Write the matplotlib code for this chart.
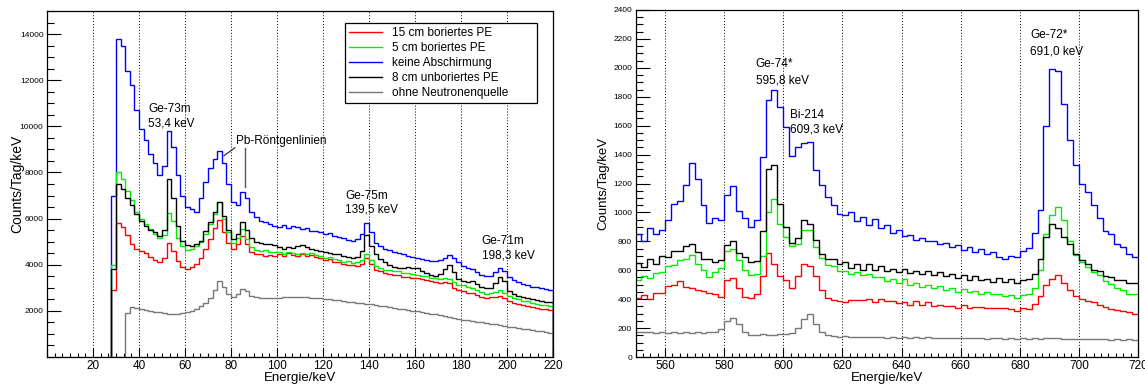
import numpy as np
import matplotlib
matplotlib.use("Agg")
import matplotlib.pyplot as plt
from matplotlib.ticker import MultipleLocator, FuncFormatter
from matplotlib.lines import Line2D

plt.rcParams['font.family'] = ['Liberation Sans', 'DejaVu Sans']

# ---------------- data: left panel (2 keV bins starting at 28 keV) ----------------
left_start = 28.0
left_bin = 2.0
left_red = [2900, 5800, 5650, 5300, 4900, 4700, 4600, 4500, 4350, 4200,
            4100, 4300, 4950, 4600, 4150, 3900, 3800, 3900, 4050, 4300,
            4700, 5100, 5600, 5950, 5400, 4950, 4700, 4900, 5250, 4900,
            4550, 4450, 4450, 4380, 4420, 4400,
            4450, 4370, 4490, 4410, 4370, 4460, 4390, 4440, 4330, 4310,
            4210, 4270, 4140, 4110, 4050, 4010, 3970, 3960, 4050, 4300,
            4050, 3790, 3730, 3650, 3610, 3540, 3540, 3480, 3470, 3410,
            3410, 3360, 3330, 3280, 3260, 3210, 3250, 3190, 3010, 2890,
            2870, 2780, 2770, 2670, 2620, 2550, 2590, 2590, 2660, 2540,
            2410, 2340, 2310, 2240, 2210, 2150, 2130, 2080, 2080, 2040]
left_green = [4000, 8000, 7700, 7200, 6800, 6300, 6000, 5750, 5550, 5350,
              5150, 5300, 6250, 5900, 5150, 4800, 4650, 4700, 4800, 5000,
              5350, 5750, 6200, 6700, 6000, 5400, 4950, 5150, 5550, 5100,
              4750, 4650, 4600, 4620, 4570, 4550,
              4560, 4480, 4570, 4490, 4480, 4520, 4450, 4510, 4410, 4390,
              4290, 4340, 4240, 4210, 4140, 4170, 4090, 4130, 4200, 4450,
              4200, 3940, 3860, 3790, 3760, 3710, 3710, 3640, 3630, 3590,
              3570, 3510, 3490, 3440, 3430, 3390, 3430, 3370, 3260, 3140,
              3110, 3040, 3010, 2890, 2810, 2740, 2790, 2810, 2890, 2790,
              2630, 2540, 2510, 2440, 2410, 2340, 2310, 2250, 2240, 2190]
left_blue = [7000, 13800, 13500, 12400, 11800, 10700, 9900, 9400, 8800, 8400,
             7900, 8300, 9800, 9100, 7900, 7000, 6500, 6400, 6300, 6900,
             7600, 8200, 8600, 8950, 8400, 7500, 6700, 6600, 7150, 6900,
             6300, 6050, 5900, 5850, 5750, 5680,
             5650, 5720, 5600, 5680, 5620, 5560, 5600, 5480, 5450, 5400,
             5350, 5380, 5250, 5200, 5150, 5080, 5050, 5100, 5350, 5800,
             5400, 4950, 4800, 4700, 4650, 4550, 4520, 4480, 4400, 4350,
             4280, 4250, 4200, 4180, 4150, 4200, 4300, 4420, 4300, 4100,
             3950, 3880, 3800, 3700, 3550, 3500, 3520, 3700, 3880, 3750,
             3450, 3350, 3250, 3180, 3120, 3050, 3020, 2980, 2950, 2920]
left_black = [3800, 7500, 7300, 6900, 6600, 6200, 5900, 5700, 5500, 5400,
              5250, 5500, 7700, 6900, 5700, 5050, 4850, 4800, 4900, 5050,
              5450, 5850, 6300, 6700, 6100, 5500, 5100, 5350, 5850, 5500,
              5150, 5000, 4950, 4900, 4900, 4850,
              4750, 4700, 4780, 4720, 4800, 4850, 4750, 4700, 4650, 4600,
              4550, 4520, 4480, 4450, 4380, 4350, 4300, 4350, 4600, 5300,
              4800, 4450, 4250, 4100, 4000, 3900, 3880, 3850, 3900, 3870,
              3850, 3750, 3650, 3550, 3520, 3600, 3800, 3980, 3700, 3400,
              3300, 3250, 3280, 3150, 3050, 2980, 3000, 3200, 3480, 3300,
              2850, 2720, 2650, 2600, 2560, 2520, 2480, 2440, 2400, 2380]
left_gray = [0, 0, 0, 1900, 2150, 2120, 2080, 2050, 2000, 1970,
             1940, 1900, 1880, 1870, 1880, 1900, 1950, 2000, 2080, 2200,
             2350, 2550, 2900, 3300, 3050, 2750, 2600, 2750, 2950, 2850,
             2650, 2580, 2560, 2560, 2570, 2570,
             2570, 2580, 2590, 2600, 2600, 2590, 2580, 2570, 2560, 2550,
             2530, 2510, 2480, 2450, 2430, 2400, 2380, 2360, 2340, 2310,
             2280, 2250, 2220, 2190, 2160, 2130, 2100, 2070, 2040, 2010,
             1980, 1950, 1920, 1880, 1850, 1810, 1780, 1740, 1700, 1660,
             1620, 1590, 1560, 1530, 1500, 1470, 1440, 1410, 1380, 1350,
             1320, 1290, 1260, 1230, 1200, 1170, 1140, 1110, 1080, 1050]

# ---------------- data: right panel (2 keV bins starting at 550 keV) ----------------
right_start = 550.0
right_bin = 2.0
right_red = [405, 430, 400, 440, 445, 490, 500, 525, 485, 475,
             460, 455, 440, 435, 415, 530, 545, 480, 415, 405,
             435, 560, 720, 640, 560, 530, 480, 560, 640, 630,
             560, 460, 410, 395, 385, 378, 396, 392, 392, 400,
             380, 402, 384, 390, 372, 382, 362, 388, 358, 378,
             352, 362, 356, 354, 340, 360, 338, 346, 348, 342,
             340, 338, 336, 334, 320, 336, 335, 365, 420, 500,
             540, 565, 510, 460, 420, 400, 385, 380, 360, 345,
             330, 322, 315, 310, 300]
right_green = [530, 560, 548, 580, 585, 630, 635, 670, 675, 705,
               645, 605, 555, 590, 615, 730, 750, 670, 605, 570,
               575, 700, 1000, 1090, 920, 830, 770, 785, 880, 880,
               760, 685, 635, 630, 595, 592, 572, 588, 565, 576,
               550, 555, 528, 540, 515, 538, 500, 510, 485, 498,
               476, 488, 464, 475, 452, 472, 448, 458, 438, 450,
               434, 438, 420, 430, 410, 426, 435, 475, 600, 850,
               980, 1040, 950, 800, 705, 655, 625, 585, 565, 525,
               505, 475, 460, 435, 435]
right_blue = [850, 800, 890, 850, 880, 950, 1060, 1080, 1190, 1340,
              1230, 1050, 930, 960, 950, 1120, 1180, 1010, 960, 900,
              950, 1380, 1780, 1850, 1730, 1590, 1390, 1450, 1480, 1490,
              1290, 1190, 1110, 1050, 990, 980, 1000, 940, 970, 915,
              955, 895, 915, 860, 880, 840, 845, 810, 820, 800,
              805, 780, 790, 760, 775, 740, 760, 725, 745, 715,
              725, 690, 675, 700, 690, 730, 755, 855, 1020, 1600,
              1990, 1980, 1750, 1500, 1330, 1200, 1140, 1050, 960, 870,
              850, 780, 760, 710, 690]
right_black = [650, 625, 680, 645, 700, 690, 730, 735, 770, 785,
               725, 680, 675, 660, 670, 775, 805, 720, 690, 655,
               665, 870, 1300, 1330, 1060, 900, 790, 820, 950, 920,
               810, 715, 680, 680, 640, 655, 615, 640, 605, 640,
               600, 630, 598, 612, 590, 606, 580, 598, 572, 598,
               565, 588, 560, 572, 546, 570, 536, 558, 530, 542,
               520, 548, 518, 538, 512, 535, 540, 575, 680, 830,
               920, 890, 830, 780, 710, 670, 645, 605, 595, 560,
               555, 535, 530, 515, 515]
right_gray = [175, 170, 172, 168, 171, 166, 173, 167, 171, 166,
              173, 167, 171, 175, 195, 250, 268, 225, 170, 155,
              150, 156, 151, 150, 156, 160, 165, 200, 260, 295,
              230, 175, 150, 145, 139, 142, 140, 141, 136, 141,
              135, 140, 134, 139, 133, 138, 132, 137, 131, 136,
              133, 130, 134, 129, 134, 128, 133, 128, 132, 127,
              131, 128, 126, 130, 125, 129, 125, 129, 126, 130,
              129, 128, 126, 127, 124, 127, 123, 126, 122, 125,
              121, 124, 120, 123, 119]

labels = ["15 cm boriertes PE", "5 cm boriertes PE", "keine Abschirmung",
          "8 cm unboriertes PE", "ohne Neutronenquelle"]
colors = ["#ff0000", "#00ee00", "#0000ff", "#000000", "#777777"]

left_series = [left_red, left_green, left_blue, left_black, left_gray]
right_series = [right_red, right_green, right_blue, right_black, right_gray]
draw_order = [4, 2, 0, 1, 3]

W, H = 1145, 385
fig = plt.figure(figsize=(W / 100, H / 100), dpi=100)
axL = fig.add_axes([47 / W, 28 / H, 506 / W, 346 / H])
axR = fig.add_axes([635.5 / W, 28 / H, 502.5 / W, 347 / H])


def edges_for(start, width, n):
    return start + width * np.arange(n + 1)


for i in draw_order:
    v = np.asarray(left_series[i], dtype=float)
    axL.stairs(v, edges_for(left_start, left_bin, len(v)), baseline=0,
               color=colors[i], lw=1.0, zorder=2)
    v = np.asarray(right_series[i], dtype=float)
    axR.stairs(v, edges_for(right_start, right_bin, len(v)), baseline=None,
               color=colors[i], lw=1.0, zorder=2)


def style(ax, xlim, ylim, xmaj, xmin, ymaj, ymin, ytick_fs, hide_zero, ylab_x, ylab_fs):
    ax.set_xlim(*xlim)
    ax.set_ylim(*ylim)
    ax.xaxis.set_major_locator(MultipleLocator(xmaj))
    ax.xaxis.set_minor_locator(MultipleLocator(xmin))
    ax.yaxis.set_major_locator(MultipleLocator(ymaj))
    ax.yaxis.set_minor_locator(MultipleLocator(ymin))
    fmt = FuncFormatter(lambda v, p: '' if (hide_zero and abs(v) < 1e-9) else f'{v:.0f}')
    ax.xaxis.set_major_formatter(FuncFormatter(lambda v, p: '' if abs(v) < 1e-9 else f'{v:.0f}'))
    ax.yaxis.set_major_formatter(fmt)
    ax.tick_params(axis='x', which='major', direction='in', length=6.5, width=0.8,
                   labelsize=8.5, pad=2.5, top=False)
    ax.tick_params(axis='x', which='minor', direction='in', length=3.2, width=0.8, top=False)
    ax.tick_params(axis='y', which='major', direction='in', length=10, width=0.8,
                   labelsize=ytick_fs, pad=2.5, right=False)
    ax.tick_params(axis='y', which='minor', direction='in', length=5, width=0.8, right=False)
    ax.grid(axis='x', which='major', color='black', lw=0.7, ls=(0, (1, 2)))
    for s in ax.spines.values():
        s.set_linewidth(0.9)
        s.set_zorder(3)
    ax.set_xlabel('Energie/keV', fontsize=9.5)
    ax.xaxis.set_label_coords(0.5, -21 / 346)
    ax.xaxis.label.set_va('center')
    ax.set_ylabel('Counts/Tag/keV', fontsize=ylab_fs)
    ax.yaxis.set_label_coords(ylab_x, 0.5)
    ax.yaxis.label.set_va('center')


style(axL, (0, 220), (0, 15000), 20, 20 / 6, 2000, 500, 6, True, (17 - 47) / 506, 10)
style(axR, (550, 720), (0, 2400), 20, 2.5, 200, 50, 6, False, (603 - 635.5) / 502.5, 9.5)

# legend
handles = [Line2D([], [], color=c, lw=1.0) for c in colors]
leg = axL.legend(handles, labels, loc='upper left',
                 bbox_to_anchor=(298 / 506, 1 - 12 / 346, 192 / 506, 0.0),
                 mode='expand', fontsize=8.5, frameon=True, fancybox=False,
                 edgecolor='black', borderaxespad=0, borderpad=0.35,
                 labelspacing=0.25, handlelength=2.8, handletextpad=0.8)
leg.get_frame().set_linewidth(0.9)
leg.get_frame().set_alpha(1)

tfs = 8.5
# left annotations
axL.text(43.9, 10640, 'Ge-73m', fontsize=tfs, va='baseline')
axL.text(43.9, 9990, '53,4 keV', fontsize=tfs, va='baseline')
axL.text(82.2, 9245, 'Pb-Röntgenlinien', fontsize=tfs, va='baseline')
axL.plot([77.0, 81.7], [8730, 9070], color='#333333', lw=0.9)
axL.plot([86.1, 86.1], [9070, 7390], color='#555555', lw=1.0)
axL.text(129.6, 6870, 'Ge-75m', fontsize=tfs, va='baseline')
axL.text(129.6, 6250, '139,5 keV', fontsize=tfs, va='baseline')
axL.text(189.0, 4910, 'Ge-71m', fontsize=tfs, va='baseline')
axL.text(189.0, 4265, '198,3 keV', fontsize=tfs, va='baseline')

# right annotations
axR.text(590.7, 2003, 'Ge-74*', fontsize=tfs, va='baseline')
axR.text(590.7, 1893, '595,8 keV', fontsize=tfs, va='baseline')
axR.text(602.1, 1651, 'Bi-214', fontsize=tfs, va='baseline')
axR.text(602.1, 1551, '609,3 keV', fontsize=tfs, va='baseline')
axR.text(683.6, 2208, 'Ge-72*', fontsize=tfs, va='baseline')
axR.text(683.6, 2093, '691,0 keV', fontsize=tfs, va='baseline')

fig.savefig('out.png', dpi=100)
